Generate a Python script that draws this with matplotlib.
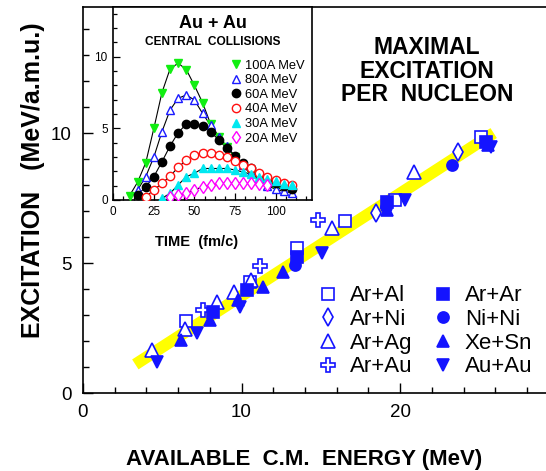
import matplotlib
matplotlib.use('Agg')
import matplotlib.pyplot as plt
from matplotlib.lines import Line2D
from matplotlib.ticker import MultipleLocator

plt.rcParams['font.family'] = ['Liberation Sans', 'DejaVu Sans']

BLUE = '#1414ff'

# main panel: maximal excitation vs available c.m. energy
fit_energy = [3.3, 25.9]
fit_excitation = [1.1, 10.0]

ar_al_e = [6.5, 10.54, 13.52, 16.53, 19.68, 25.09]
ar_al_x = [2.78, 4.28, 5.56, 6.63, 7.42, 9.83]
ar_ni_e = [18.46, 23.68]
ar_ni_x = [6.94, 9.28]
ar_ag_e = [4.33, 6.44, 8.47, 9.53, 10.58, 15.69, 20.9]
ar_ag_x = [1.65, 2.45, 3.51, 3.9, 4.35, 6.33, 8.51]
ar_au_e = [7.55, 11.17, 14.85]
ar_au_x = [3.19, 4.9, 6.65]
ar_ar_e = [8.22, 10.33, 13.48, 19.16, 25.4]
ar_ar_x = [3.13, 3.96, 5.24, 7.36, 9.65]
ni_ni_e = [13.38, 19.12, 23.26]
ni_ni_x = [4.92, 7.17, 8.77]
xe_sn_e = [6.16, 8.01, 9.8, 11.34, 12.64, 19.15, 25.57]
xe_sn_x = [2.04, 2.81, 3.58, 4.09, 4.67, 7.05, 9.54]
au_au_e = [4.65, 7.21, 9.87, 15.06, 20.32, 25.72]
au_au_x = [1.2, 2.29, 3.32, 5.37, 7.42, 9.45]

# inset: excitation vs time, Au+Au central
t_100 = list(range(10, 115, 5))
e_100 = [0.3, 1.25, 2.6, 5.0, 7.5, 9.15, 9.55, 9.1, 8.0, 6.8, 5.3, 4.4, 3.7,
         3.0, 2.35, 1.8, 1.35, 1.05, 0.85, 0.75, 0.7]
t_80 = list(range(15, 115, 5))
e_80 = [0.7, 1.63, 3.0, 4.77, 6.28, 7.1, 7.33, 6.98, 6.05, 5.2, 4.4, 3.75,
        3.05, 2.45, 1.95, 1.5, 1.0, 0.75, 0.6, 0.5]
t_60 = list(range(15, 115, 5))
e_60 = [0.35, 0.93, 1.63, 2.67, 3.77, 4.7, 5.3, 5.3, 5.16, 4.77, 4.19, 3.6,
        3.1, 2.56, 2.2, 1.74, 1.4, 1.16, 1.0, 0.8]
t_40 = list(range(20, 115, 5))
e_40 = [0.23, 0.7, 1.16, 1.67, 2.28, 2.79, 3.14, 3.26, 3.26, 3.14, 2.98,
        2.7, 2.44, 2.2, 1.86, 1.63, 1.4, 1.2, 1.05]
t_30 = list(range(30, 115, 5))
e_30 = [0.12, 0.47, 1.05, 1.63, 1.86, 2.2, 2.2, 2.2, 2.2, 2.1, 1.95, 1.8,
        1.6, 1.45, 1.3, 1.15, 1.05]
t_20 = list(range(35, 100, 5))
e_20 = [0.2, 0.35, 0.47, 0.7, 0.93, 1.05, 1.16, 1.18, 1.18, 1.18, 1.16,
        1.12, 1.08]

fig = plt.figure(figsize=(5.46, 4.71), dpi=100)
ax = fig.add_axes([83 / 546, 78 / 471, 463 / 546, 386 / 471])

ax.plot(fit_energy, fit_excitation, color='#ffff00', lw=8.5,
        solid_capstyle='butt', zorder=1)

main_series = [
    (ar_al_e, ar_al_x, 's', 'white', 9, 'Ar+Al'),
    (ar_ni_e, ar_ni_x, 'd', 'white', 9, 'Ar+Ni'),
    (ar_ag_e, ar_ag_x, '^', 'white', 10, 'Ar+Ag'),
    (ar_au_e, ar_au_x, 'P', 'white', 10, 'Ar+Au'),
    (ar_ar_e, ar_ar_x, 's', BLUE, 8, 'Ar+Ar'),
    (ni_ni_e, ni_ni_x, 'o', BLUE, 8, 'Ni+Ni'),
    (xe_sn_e, xe_sn_x, '^', BLUE, 8, 'Xe+Sn'),
    (au_au_e, au_au_x, 'v', BLUE, 8, 'Au+Au'),
]
handles = []
for e, x, m, fc, ms, lab in main_series:
    ax.plot(e, x, ls='none', marker=m, ms=ms, mfc=fc, mec=BLUE, mew=1.2, zorder=3)
    handles.append(Line2D([], [], ls='none', marker=m, ms=ms, mfc=fc,
                          mec=BLUE, mew=1.2, label=lab))

ax.legend(handles=handles, ncol=2, loc='upper left',
          bbox_to_anchor=(0.505, 0.279), frameon=False, fontsize=16,
          handlelength=1.0, handletextpad=0.5, columnspacing=0.85,
          labelspacing=0.12, borderpad=0, borderaxespad=0)

ax.set_xlim(0, 29.2)
ax.set_ylim(0, 14.85)
ax.xaxis.set_major_locator(MultipleLocator(10))
ax.xaxis.set_minor_locator(MultipleLocator(2))
ax.yaxis.set_major_locator(MultipleLocator(5))
ax.yaxis.set_minor_locator(MultipleLocator(1))
ax.tick_params(which='both', direction='in', top=False, right=False,
               labelsize=13.5, width=1.0)
ax.tick_params(which='major', length=7, pad=8)
ax.tick_params(which='minor', length=4)
ax.spines['right'].set_visible(False)
for s in ['left', 'bottom', 'top']:
    ax.spines[s].set_linewidth(1.2)

fig.text(304 / 546, 1 - 459 / 471, 'AVAILABLE  C.M.  ENERGY (MeV)',
         ha='center', va='center', fontsize=16, fontweight='bold')
fig.text(33 / 546, 1 - 180 / 471, 'EXCITATION   (MeV/a.m.u.)',
         ha='center', va='center', rotation=90, fontsize=18, fontweight='bold')
ax.text(0.743, 0.834, 'MAXIMAL\nEXCITATION\nPER  NUCLEON', transform=ax.transAxes,
        ha='center', va='center', fontsize=16.5, fontweight='bold',
        linespacing=1.04)

# inset
ins = fig.add_axes([113.3 / 546, 271 / 471, 198.7 / 546, 193 / 471])
ins.set_facecolor('white')
inset_series = [
    (t_100, e_100, 'v', '#11ee11', '#11ee11', '100A MeV'),
    (t_80, e_80, '^', 'white', '#1a1aff', '80A MeV'),
    (t_60, e_60, 'o', 'black', 'black', '60A MeV'),
    (t_40, e_40, 'o', 'white', '#ff1010', '40A MeV'),
    (t_30, e_30, '^', '#00e8f0', '#00e8f0', '30A MeV'),
    (t_20, e_20, 'd', 'white', '#ff00ff', '20A MeV'),
]
ins_handles = []
for t, e, m, fc, ec, lab in inset_series:
    ins.plot(t, e, color='black', lw=0.8, zorder=2)
    ins.plot(t, e, ls='none', marker=m, ms=6, mfc=fc, mec=ec, mew=1.0, zorder=3)
    ins_handles.append(Line2D([], [], ls='none', marker=m, ms=6, mfc=fc,
                              mec=ec, mew=1.0, label=lab))

ins.legend(handles=ins_handles, loc='upper left', bbox_to_anchor=(0.592, 0.728),
           frameon=False, fontsize=9.3, handlelength=0.8, handletextpad=0.3,
           labelspacing=0.2, borderpad=0, borderaxespad=0)

ins.set_xlim(0, 122.5)
ins.set_ylim(0, 13.47)
ins.xaxis.set_major_locator(MultipleLocator(25))
ins.xaxis.set_minor_locator(MultipleLocator(6.25))
ins.yaxis.set_major_locator(MultipleLocator(5))
ins.yaxis.set_minor_locator(MultipleLocator(1))
ins.tick_params(which='both', direction='in', top=False, right=False,
                labelsize=8.5, width=0.9)
ins.tick_params(which='major', length=5, pad=4)
ins.tick_params(which='minor', length=3)
for s in ins.spines.values():
    s.set_linewidth(1.2)

ins.set_xlabel('TIME  (fm/c)', fontsize=10.5, fontweight='bold')
ins.xaxis.set_label_coords(0.42, -0.18)
ins.text(0.50, 0.917, 'Au + Au', transform=ins.transAxes, ha='center',
         va='center', fontsize=13, fontweight='bold')
ins.text(0.50, 0.82, 'CENTRAL  COLLISIONS', transform=ins.transAxes,
         ha='center', va='center', fontsize=8.6, fontweight='bold')

fig.savefig('out.png', dpi=100)
